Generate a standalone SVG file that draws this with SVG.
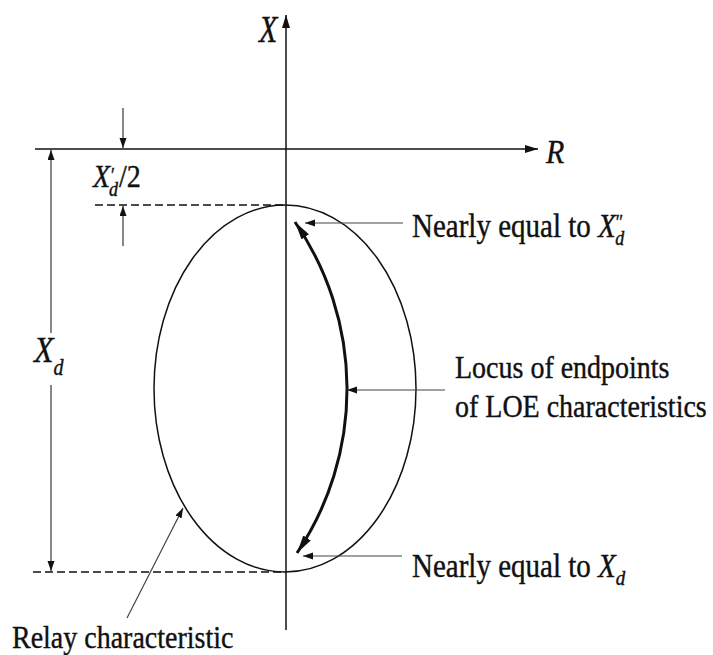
<svg xmlns="http://www.w3.org/2000/svg" width="713" height="655" viewBox="0 0 713 655">
<defs>
<style>
.ln{stroke:#111;fill:none;stroke-width:1.5}
.thin{stroke:#111;fill:none;stroke-width:1}
.lead{stroke:#444;fill:none;stroke-width:1.2}
.dash{stroke:#111;fill:none;stroke-width:1.6;stroke-dasharray:8 4}
.t{font-family:"Liberation Serif","Times New Roman",serif;fill:#111;stroke:#111;stroke-width:0.35}
.i{font-style:italic}
</style>
<marker id="ax" markerUnits="userSpaceOnUse" markerWidth="14" markerHeight="10" refX="13" refY="4" orient="auto"><path d="M0,0 L13,4 L0,8 Z" fill="#111"/></marker>
<marker id="sm" markerUnits="userSpaceOnUse" markerWidth="12" markerHeight="8" refX="10" refY="3.5" orient="auto"><path d="M0,0 L10,3.5 L0,7 Z" fill="#111"/></marker>
<marker id="big" markerUnits="userSpaceOnUse" markerWidth="20" markerHeight="10" refX="18" refY="4.5" orient="auto-start-reverse"><path d="M0,0 L18,4.5 L0,9 Z" fill="#111"/></marker>
</defs>
<rect width="713" height="655" fill="#fff"/>

<g id="axes">
<line class="ln" x1="286" y1="630" x2="286" y2="15" marker-end="url(#ax)"/>
<line class="ln" x1="35" y1="149" x2="538" y2="149" marker-end="url(#ax)"/>
</g>

<g id="relay-characteristic">
<ellipse class="ln" cx="285" cy="388.5" rx="131" ry="183.5"/>
</g>

<g id="connectors">
<line class="dash" x1="95" y1="205" x2="286" y2="205"/>
<line class="dash" x1="33" y1="572" x2="286" y2="572"/>
<line class="thin" x1="51" y1="333" x2="51" y2="150" marker-end="url(#sm)"/>
<line class="thin" x1="51" y1="385" x2="51" y2="571" marker-end="url(#sm)"/>
<line class="thin" x1="123" y1="108" x2="123" y2="148" marker-end="url(#sm)"/>
<line class="thin" x1="123" y1="246" x2="123" y2="206" marker-end="url(#sm)"/>
<path d="M295,222 A294,294 0 0 1 297,553" stroke="#111" stroke-width="3" fill="none" marker-start="url(#big)" marker-end="url(#big)"/>
<line class="lead" x1="403" y1="223" x2="305" y2="223" marker-end="url(#sm)"/>
<line class="lead" x1="445" y1="390" x2="347" y2="390" marker-end="url(#sm)"/>
<line class="lead" x1="402" y1="556" x2="303" y2="556" marker-end="url(#sm)"/>
<line class="lead" x1="127" y1="618" x2="183" y2="508" marker-end="url(#sm)"/>
</g>

<g id="label-X">
<text class="t i" transform="translate(259,42) scale(1,1.25)" font-size="30">X</text>
</g>
<g id="label-R">
<text class="t i" transform="translate(546,163) scale(1,1.15)" font-size="30">R</text>
</g>
<g id="label-Xd-half">
<text class="t" transform="translate(93,187) scale(1,1.15)" font-size="28"><tspan class="i">X</tspan><tspan font-size="18" dx="1" dy="-4">′</tspan><tspan class="i" font-size="18" dx="-6" dy="12">d</tspan><tspan dx="1" dy="-8">/2</tspan></text>
</g>
<g id="label-Xd">
<text class="t" transform="translate(34,362) scale(1,1.15)" font-size="32"><tspan class="i">X</tspan><tspan class="i" font-size="20" dx="0" dy="11">d</tspan></text>
</g>
<g id="label-nearly-Xd2">
<text class="t" transform="translate(412,237) scale(1,1.15)" font-size="29">Nearly equal to <tspan class="i">X</tspan><tspan font-size="18" dx="0" dy="-7">″</tspan><tspan class="i" font-size="18" dx="-8" dy="14">d</tspan></text>
</g>
<g id="label-locus">
<text class="t" transform="translate(455,378) scale(1,1.15)" font-size="28">Locus of endpoints</text>
<text class="t" transform="translate(455,417) scale(1,1.15)" font-size="28">of LOE characteristics</text>
</g>
<g id="label-nearly-Xd">
<text class="t" transform="translate(412,577) scale(1,1.15)" font-size="29">Nearly equal to <tspan class="i">X</tspan><tspan class="i" font-size="19" dx="0" dy="7">d</tspan></text>
</g>
<g id="label-relay">
<text class="t" transform="translate(12,648) scale(1,1.15)" font-size="28">Relay characteristic</text>
</g>
</svg>
